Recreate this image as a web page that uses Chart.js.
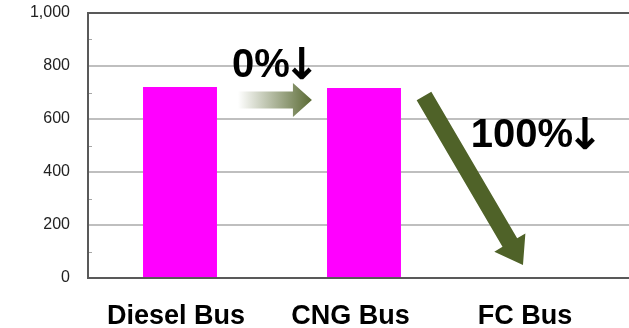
<!DOCTYPE html>
<html>
<head>
<meta charset="utf-8">
<script src="https://cdn.jsdelivr.net/npm/chart.js@4/dist/chart.umd.min.js"></script>
<style>
html,body{margin:0;padding:0;background:#fff;overflow:hidden;}
#wrap{width:629px;height:328px;overflow:hidden;position:relative;}
canvas{display:block;}
</style>
</head>
<body>
<div id="wrap"><canvas id="c" width="640" height="328"></canvas></div>
<script>
const categories = ['Diesel Bus', 'CNG Bus', 'FC Bus'];
const costValues = [721, 717, 0];
const yTicks = [0, 200, 400, 600, 800, 1000];
const reductionLabels = ['0%\u2193', '100%\u2193'];

const OLIVE = '#4F6228';

function arrow(ctx, x0, y0, x1, y1, shaftHalf, headHalf, headLen, fill) {
  const dx = x1 - x0, dy = y1 - y0;
  const L = Math.hypot(dx, dy);
  const ux = dx / L, uy = dy / L;
  const px = -uy, py = ux;
  const bx = x1 - ux * headLen, by = y1 - uy * headLen;
  ctx.beginPath();
  ctx.moveTo(x0 + px * shaftHalf, y0 + py * shaftHalf);
  ctx.lineTo(bx + px * shaftHalf, by + py * shaftHalf);
  ctx.lineTo(bx + px * headHalf, by + py * headHalf);
  ctx.lineTo(x1, y1);
  ctx.lineTo(bx - px * headHalf, by - py * headHalf);
  ctx.lineTo(bx - px * shaftHalf, by - py * shaftHalf);
  ctx.lineTo(x0 - px * shaftHalf, y0 - py * shaftHalf);
  ctx.closePath();
  ctx.fillStyle = fill;
  ctx.fill();
}

function pctLabel(ctx, text, x, y) {
  const num = text.slice(0, -1), arr = text.slice(-1);
  ctx.font = 'bold 40px "Liberation Sans", Arial, sans-serif';
  ctx.fillText(num, x, y);
  const w = ctx.measureText(num).width;
  ctx.font = '600 44px "DejaVu Sans", sans-serif';
  const aw = ctx.measureText(arr).width;
  ctx.fillText(arr, x + w - aw * 0.18, y + 2);
}

const decor = {
  id: 'decor',
  beforeDatasetsDraw(chart) {
    const ctx = chart.ctx, a = chart.chartArea, y = chart.scales.y;
    ctx.save();
    ctx.strokeStyle = '#a6a6a6';
    ctx.lineWidth = 1;
    for (let v = 100; v < 1000; v += 200) {
      const py = Math.round(y.getPixelForValue(v)) + 0.5;
      ctx.beginPath();
      ctx.moveTo(a.left, py);
      ctx.lineTo(a.left + 4, py);
      ctx.stroke();
    }
    ctx.restore();
  },
  afterDatasetsDraw(chart) {
    const ctx = chart.ctx, a = chart.chartArea, x = chart.scales.x, y = chart.scales.y;
    ctx.save();
    // frame
    ctx.strokeStyle = '#595959';
    ctx.lineWidth = 2;
    ctx.strokeRect(a.left, a.top, a.right - a.left, a.bottom - a.top);
    // horizontal gradient arrow
    const hx0 = x.getPixelForValue(0.315), hx1 = x.getPixelForValue(0.717);
    const hy = y.getPixelForValue(672);
    const g = ctx.createLinearGradient(hx0, 0, hx1, 0);
    g.addColorStop(0, 'rgba(255,255,255,1)');
    g.addColorStop(1, '#5a6a34');
    arrow(ctx, hx0, hy, hx1, hy, 8.5, 17, 19, g);
    // diagonal arrow
    const dx0 = x.getPixelForValue(1.326), dy0 = y.getPixelForValue(687);
    const dx1 = x.getPixelForValue(1.864), dy1 = y.getPixelForValue(49);
    arrow(ctx, dx0, dy0, dx1, dy1, 8.5, 18, 26, OLIVE);
    // labels
    ctx.fillStyle = '#000';
    ctx.textBaseline = 'alphabetic';
    ctx.textAlign = 'left';
    pctLabel(ctx, reductionLabels[0], x.getPixelForValue(0.283), y.getPixelForValue(758));
    pctLabel(ctx, reductionLabels[1], x.getPixelForValue(1.58), y.getPixelForValue(494));
    ctx.restore();
  }
};

new Chart(document.getElementById('c'), {
  type: 'bar',
  data: {
    labels: categories,
    datasets: [{
      data: costValues,
      backgroundColor: '#FF00FF',
      borderWidth: 0,
      barPercentage: 0.402,
      categoryPercentage: 1.0,
      xAxisID: 'x'
    }]
  },
  options: {
    responsive: false,
    animation: false,
    devicePixelRatio: 1,
    layout: { padding: { top: 13, left: 0, right: 0, bottom: 0 } },
    plugins: { legend: { display: false }, tooltip: { enabled: false } },
    scales: {
      x: {
        type: 'category',
        display: false,
        offset: true,
        grid: { display: false }
      },
      xl: {
        type: 'linear',
        position: 'bottom',
        offset: false,
        min: -0.504,
        max: 2.659,
        afterBuildTicks(s) { s.ticks = categories.map((c, i) => ({ value: i })); },
        afterFit(s) { s.height = 50; s.paddingLeft = 0; s.paddingRight = 0; s.paddingTop = 0; s.paddingBottom = 0; },
        grid: { display: false, drawTicks: false, offset: false },
        border: { display: false },
        ticks: {
          padding: 22,
          autoSkip: false,
          maxRotation: 0,
          color: '#000',
          font: { family: '"Liberation Sans", Arial, sans-serif', size: 27, weight: 'bold' },
          callback: (v) => categories[v] ?? ''
        }
      },
      y: {
        min: 0,
        max: 1000,
        afterBuildTicks(s) { s.ticks = yTicks.map(v => ({ value: v })); },
        afterFit(s) { s.width = 88; s.paddingTop = 0; s.paddingBottom = 0; },
        grid: {
          color: (c) => (c.tick && c.tick.value > 0 && c.tick.value < 1000) ? '#bfbfbf' : 'transparent',
          lineWidth: 2,
          drawTicks: false
        },
        border: { display: false },
        ticks: {
          padding: 18,
          color: '#222',
          font: { family: '"Liberation Sans", Arial, sans-serif', size: 16 },
          callback: (v) => v.toLocaleString('en-US')
        }
      }
    }
  },
  plugins: [decor]
});
</script>
</body>
</html>
